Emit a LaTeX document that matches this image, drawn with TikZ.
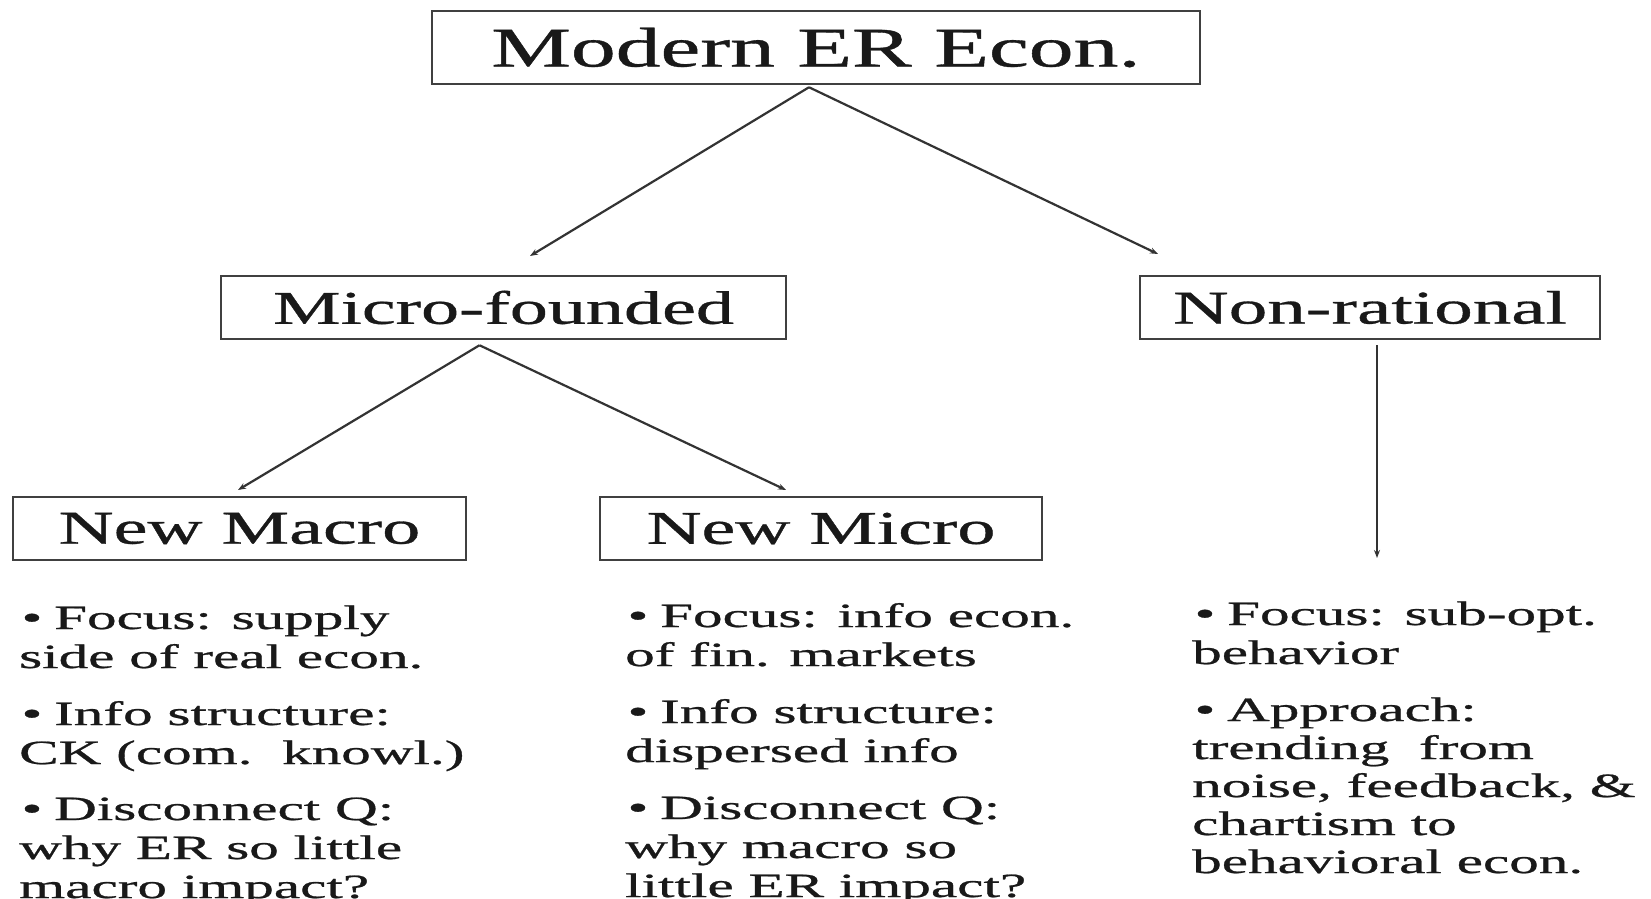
\documentclass[tikz,border=0pt]{standalone}
\usepackage{fontspec}
\setmainfont{Liberation Serif}[FakeBold=0.6]
\usetikzlibrary{arrows.meta,calc}
\newcommand{\hstretch}[2]{\scalebox{#1}[1]{#2}}
\newcommand{\para}[1]{\hstretch{1.74}{\begin{tabular}[t]{@{}l@{}}#1\end{tabular}}}
\newcommand{\bul}{\hspace{1.4pt}\textbullet\hspace{6.8pt}}
\begin{document}
\begin{tikzpicture}[x=1pt,y=-1pt,
  box/.style={draw=black!75, line width=2.5pt, rectangle, inner sep=0pt, text=black!90},
  titlefont/.style={font=\fontsize{56}{60}\selectfont},
  labelfont/.style={font=\fontsize{47}{52}\selectfont},
  para/.style={anchor=base west, inner sep=0pt, text=black!90, font=\fontsize{34}{39}\selectfont},
  conn/.style={draw=black!80, line width=2.2pt, -{Stealth[length=8pt,width=6pt]}}]
\clip (0,0) rectangle (1651,899);
\fill[white] (0,0) rectangle (1651,899);

% boxes
\node[box, titlefont, minimum width=768pt, minimum height=73pt] (top) at (816,47.5) {\hstretch{1.6}{Modern ER Econ.}};
\node[box, labelfont, minimum width=565pt, minimum height=63pt] (micro) at (503.5,307.5) {\hstretch{1.62}{Micro-founded}};
\node[box, labelfont, minimum width=460pt, minimum height=63pt] (nonrat) at (1370,307.5) {\hstretch{1.64}{Non-rational}};
\node[box, labelfont, minimum width=453pt, minimum height=63pt] (newmacro) at (239.5,528.5) {\hstretch{1.62}{New Macro}};
\node[box, labelfont, minimum width=442pt, minimum height=63pt] (newmicro) at (821,528.5) {\hstretch{1.62}{New Micro}};

% connector ends
\coordinate (t0) at ($(top.south)+(-7,2)$);
\coordinate (t1) at (530,256);
\coordinate (t2) at (1158,254);
\coordinate (m0) at ($(micro.south)+(-24,5)$);
\coordinate (m1) at (238,490);
\coordinate (m2) at (786,490);
\coordinate (n0) at ($(nonrat.south)+(7,5)$);
\coordinate (n1) at (1377,558);

\draw[conn] (t0) -- (t1);
\draw[conn] (t0) -- (t2);
\draw[conn] (m0) -- (m1);
\draw[conn] (m0) -- (m2);
\draw[conn] (n0) -- (n1);

% left column
\node[para] (macA) at (19,629) {\para{\bul Focus: supply\\side of real econ.}};
\node[para] (macB) at (19,725) {\para{\bul Info structure:\\CK (com.\ \ knowl.)}};
\node[para] (macC) at (19,820) {\para{\bul Disconnect Q:\\why ER so little\\macro impact?}};

% middle column
\node[para] (micA) at (625,627) {\para{\bul Focus: info econ.\\of fin. markets}};
\node[para] (micB) at (625,723) {\para{\bul Info structure:\\dispersed info}};
\node[para] (micC) at (625,819) {\para{\bul Disconnect Q:\\why macro so\\little ER impact?}};

% right column
\node[para] (nrA) at (1192,625) {\para{\bul Focus: sub-opt.\\behavior}};
\node[para, font=\fontsize{34}{38}\selectfont] (nrB) at (1192,721) {\para{\bul Approach:\\trending\ \ from\\noise, feedback, \&\\chartism to\\behavioral econ.}};
\end{tikzpicture}
\end{document}
